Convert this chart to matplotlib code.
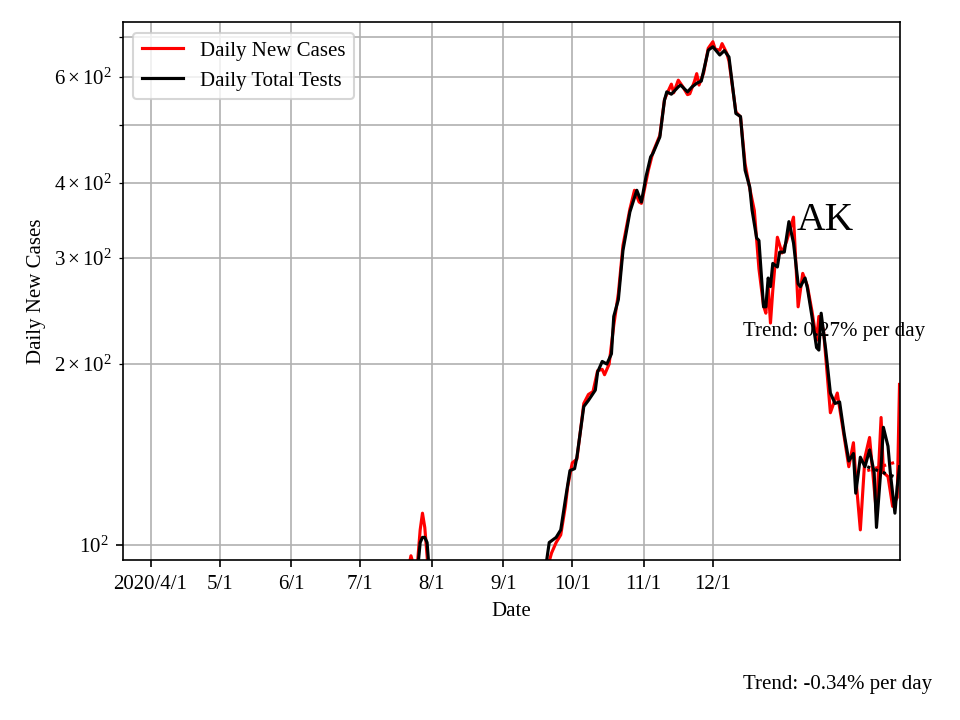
import matplotlib
matplotlib.use("Agg")
import matplotlib.pyplot as plt
import pandas as pd

plt.rcParams['font.family'] = 'Liberation Serif'
plt.rcParams['mathtext.fontset'] = 'stix'
plt.rcParams['font.size'] = 10

# daily new cases (red)
case_dates = [
    '2020-03-20', '2020-05-01', '2020-07-10', '2020-07-20', '2020-07-22', '2020-07-23',
    '2020-07-24', '2020-07-25', '2020-07-26', '2020-07-27', '2020-07-28', '2020-07-29',
    '2020-07-30', '2020-07-31', '2020-08-10', '2020-09-10', '2020-09-20', '2020-09-21',
    '2020-09-22', '2020-09-24', '2020-09-26', '2020-09-28', '2020-09-29', '2020-09-30',
    '2020-10-01', '2020-10-03', '2020-10-05', '2020-10-06', '2020-10-08', '2020-10-10',
    '2020-10-12', '2020-10-14', '2020-10-15', '2020-10-17', '2020-10-19', '2020-10-21',
    '2020-10-23', '2020-10-26', '2020-10-28', '2020-10-30', '2020-10-31', '2020-11-01',
    '2020-11-03', '2020-11-05', '2020-11-08', '2020-11-10', '2020-11-11', '2020-11-13',
    '2020-11-14', '2020-11-16', '2020-11-18', '2020-11-20', '2020-11-21', '2020-11-23',
    '2020-11-24', '2020-11-25', '2020-11-27', '2020-11-29', '2020-12-01', '2020-12-02',
    '2020-12-04', '2020-12-05', '2020-12-07', '2020-12-08', '2020-12-11', '2020-12-13',
    '2020-12-15', '2020-12-17', '2020-12-19', '2020-12-21', '2020-12-23', '2020-12-24',
    '2020-12-25', '2020-12-26', '2020-12-27', '2020-12-29', '2020-12-31', '2021-01-02',
    '2021-01-05', '2021-01-07', '2021-01-09', '2021-01-11', '2021-01-13', '2021-01-15',
    '2021-01-16', '2021-01-18', '2021-01-21', '2021-01-24', '2021-01-26', '2021-01-29',
    '2021-01-31', '2021-02-01', '2021-02-03', '2021-02-05', '2021-02-07', '2021-02-10',
    '2021-02-12', '2021-02-13', '2021-02-15', '2021-02-17', '2021-02-19', '2021-02-20',
]
cases = [
    15, 30, 60, 80, 92, 96,
    93, 88, 95, 106, 113, 107,
    96, 85, 60, 70, 88, 94,
    97, 101, 104, 116, 125, 131,
    137, 139, 160, 172, 178, 180,
    195, 196, 192, 200, 232, 262,
    315, 362, 389, 372, 370, 385,
    420, 450, 480, 550, 562, 584,
    565, 593, 578, 561, 563, 590,
    608, 582, 610, 670, 687, 668,
    665, 682, 658, 638, 525, 515,
    430, 392, 360, 288, 250, 243,
    270, 234, 265, 325, 306, 320,
    351, 249, 283, 270, 245, 219,
    240, 228, 166, 179, 160, 135,
    148, 130, 106, 140, 151, 113,
    163, 132, 130, 116, 120, 185,
]

# daily total tests, scaled (black)
test_dates = [
    '2020-03-20', '2020-05-01', '2020-06-15', '2020-07-20', '2020-07-25', '2020-07-26',
    '2020-07-27', '2020-07-28', '2020-07-29', '2020-07-30', '2020-07-31', '2020-08-01',
    '2020-08-15', '2020-09-10', '2020-09-19', '2020-09-20', '2020-09-21', '2020-09-24',
    '2020-09-26', '2020-09-28', '2020-09-30', '2020-10-02', '2020-10-03', '2020-10-06',
    '2020-10-08', '2020-10-11', '2020-10-12', '2020-10-14', '2020-10-16', '2020-10-18',
    '2020-10-19', '2020-10-21', '2020-10-23', '2020-10-26', '2020-10-29', '2020-10-31',
    '2020-11-02', '2020-11-04', '2020-11-05', '2020-11-08', '2020-11-10', '2020-11-11',
    '2020-11-13', '2020-11-16', '2020-11-17', '2020-11-18', '2020-11-20', '2020-11-22',
    '2020-11-24', '2020-11-26', '2020-11-29', '2020-12-01', '2020-12-04', '2020-12-06',
    '2020-12-08', '2020-12-11', '2020-12-13', '2020-12-15', '2020-12-17', '2020-12-18',
    '2020-12-20', '2020-12-21', '2020-12-23', '2020-12-24', '2020-12-25', '2020-12-26',
    '2020-12-27', '2020-12-29', '2020-12-30', '2021-01-01', '2021-01-03', '2021-01-05',
    '2021-01-07', '2021-01-08', '2021-01-10', '2021-01-11', '2021-01-13', '2021-01-15',
    '2021-01-16', '2021-01-17', '2021-01-19', '2021-01-21', '2021-01-23', '2021-01-25',
    '2021-01-27', '2021-01-29', '2021-01-31', '2021-02-01', '2021-02-03', '2021-02-05',
    '2021-02-07', '2021-02-09', '2021-02-10', '2021-02-12', '2021-02-13', '2021-02-15',
    '2021-02-16', '2021-02-18', '2021-02-19', '2021-02-20',
]
tests = [
    20, 40, 55, 70, 82, 92,
    101, 103, 103, 101, 90, 80,
    65, 75, 88, 95, 101, 103,
    106, 119, 133, 134, 140, 170,
    174, 181, 194, 202, 200, 208,
    240, 256, 309, 358, 389, 372,
    410, 442, 448, 477, 549, 567,
    562, 578, 582, 577, 567, 578,
    586, 591, 665, 674, 653, 664,
    648, 522, 516, 420, 394, 361,
    324, 321, 249, 249, 278, 269,
    294, 290, 307, 307, 345, 318,
    272, 269, 278, 268, 240, 213,
    211, 243, 211, 179, 172, 173,
    153, 138, 142, 122, 140, 135,
    144, 132, 107, 135, 157, 146,
    132, 113, 125, 135,
]

# 14-day trend lines
trend_dates = ['2021-02-06', '2021-02-20']
cases_trend = [133, 138]
tests_trend = [135, 129]

tick_dates = ['2020-04-01', '2020-05-01', '2020-06-01', '2020-07-01', '2020-08-01',
              '2020-09-01', '2020-10-01', '2020-11-01', '2020-12-01']
tick_labels = ['2020/4/1', '5/1', '6/1', '7/1', '8/1', '9/1', '10/1', '11/1', '12/1']

fig, ax = plt.subplots(figsize=(6.4, 4.8), dpi=150)
fig.subplots_adjust(left=0.128, right=0.937, top=0.969, bottom=0.222)

ax.plot(pd.to_datetime(case_dates), cases, color='red', lw=1.5, label='Daily New Cases')
ax.plot(pd.to_datetime(test_dates), tests, color='black', lw=1.5, label='Daily Total Tests')
ax.plot(pd.to_datetime(trend_dates), cases_trend, color='red', lw=1.5, ls=':')
ax.plot(pd.to_datetime(trend_dates), tests_trend, color='black', lw=1.5, ls=':')

ax.set_yscale('log')
ax.set_ylim(94.4, 740)
ax.set_xlim(pd.Timestamp('2020-03-20'), pd.Timestamp('2021-02-20'))
ax.set_xticks(pd.to_datetime(tick_dates))
ax.set_xticklabels(tick_labels)
ax.grid(True, which='both', color='#b0b0b0')

ax.set_xlabel('Date')
ax.set_ylabel('Daily New Cases')
ax.legend(loc='upper left')

ax.text(0.868, 0.613, 'AK', transform=ax.transAxes, fontsize=19, va='baseline')
ax.text(0.799, 0.416, 'Trend: 0.27% per day', transform=ax.transAxes, va='baseline')
ax.text(0.799, -0.24, 'Trend: -0.34% per day', transform=ax.transAxes, va='baseline')

plt.savefig('out.png')
